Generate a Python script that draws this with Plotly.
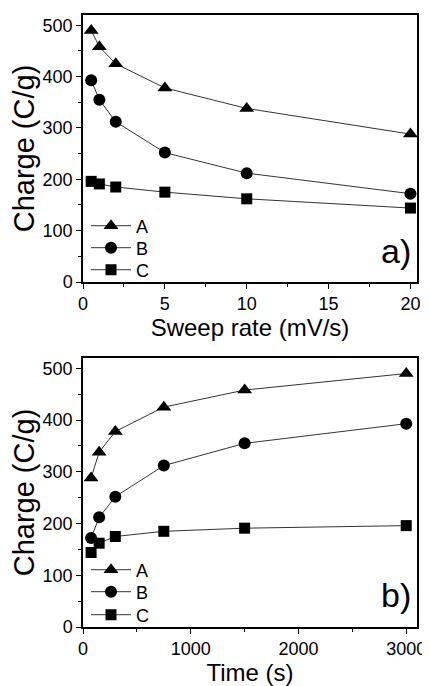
import plotly.graph_objects as go

sweep_rate = [0.5, 1, 2, 5, 10, 20]
time_s = [75, 150, 300, 750, 1500, 3000]
A_a = [490, 458, 425, 378, 338, 288]
B_a = [393, 355, 312, 252, 212, 172]
C_a = [196, 191, 185, 175, 162, 144]
A_b = [288, 338, 378, 425, 458, 490]
B_b = [172, 212, 252, 312, 355, 393]
C_b = [144, 162, 175, 185, 191, 196]

series_names = ["A", "B", "C"]
symbols = ["triangle-up", "circle", "square"]
sizes = [13, 12, 11]

FONT = "Liberation Sans, Arial, sans-serif"
# page body has an 8px default margin; figure is sized to fill the rest
OFF = 8
W, H = 430 - OFF, 686 - OFF


def xp(px):
    return (px - OFF) / W


def yp(py):
    return 1 - (py - OFF) / H


fig = go.Figure()

legend_ids_a = ["legend", "legend2", "legend3"]
legend_ids_b = ["legend4", "legend5", "legend6"]
legend_y_a = [226, 248, 270]
legend_y_b = [570, 592, 615]

for name, ys, sym, sz, lg in zip(series_names, [A_a, B_a, C_a], symbols, sizes, legend_ids_a):
    fig.add_trace(go.Scatter(x=sweep_rate, y=ys, name=name, mode="lines+markers",
                             line=dict(color="#333333", width=1),
                             marker=dict(symbol=sym, size=sz, color="black"),
                             xaxis="x", yaxis="y", legend=lg))
for name, ys, sym, sz, lg in zip(series_names, [A_b, B_b, C_b], symbols, sizes, legend_ids_b):
    fig.add_trace(go.Scatter(x=time_s, y=ys, name=name, mode="lines+markers",
                             line=dict(color="#333333", width=1),
                             marker=dict(symbol=sym, size=sz, color="black"),
                             xaxis="x2", yaxis="y2", legend=lg))

axis_common = dict(showline=True, linecolor="black", linewidth=1.5, mirror=True,
                   ticks="outside", ticklen=5, tickwidth=1.2, tickcolor="black",
                   showgrid=False, zeroline=False, automargin=False,
                   tickfont=dict(family=FONT, size=18, color="black"))

xd = [xp(83), xp(417)]
layout = dict(
    width=W, height=H,
    margin=dict(l=0, r=0, t=0, b=0, autoexpand=False),
    paper_bgcolor="white", plot_bgcolor="white",
    font=dict(family=FONT, color="black"),
    xaxis=dict(domain=xd, range=[0, 20.4], tickvals=[0, 5, 10, 15, 20],
               minor=dict(tickvals=[2.5, 7.5, 12.5, 17.5], ticks="outside", ticklen=3, tickcolor="black"),
               title=dict(text="Sweep rate (mV/s)", font=dict(size=24, family=FONT), standoff=4),
               anchor="y", **axis_common),
    yaxis=dict(domain=[yp(282), yp(15)], range=[0, 520], tickvals=[0, 100, 200, 300, 400, 500],
               minor=dict(tickvals=[50, 150, 250, 350, 450], ticks="outside", ticklen=3, tickcolor="black"),
               title=dict(text="Charge (C/g)", font=dict(size=29, family=FONT), standoff=6),
               anchor="x", **axis_common),
    xaxis2=dict(domain=xd, range=[0, 3100], tickvals=[0, 1000, 2000, 3000],
                minor=dict(tickvals=[500, 1500, 2500], ticks="outside", ticklen=3, tickcolor="black"),
                title=dict(text="Time (s)", font=dict(size=24, family=FONT), standoff=2),
                anchor="y2", **axis_common),
    yaxis2=dict(domain=[yp(627), yp(358)], range=[0, 520], tickvals=[0, 100, 200, 300, 400, 500],
                minor=dict(tickvals=[50, 150, 250, 350, 450], ticks="outside", ticklen=3, tickcolor="black"),
                title=dict(text="Charge (C/g)", font=dict(size=29, family=FONT), standoff=6),
                anchor="x2", **axis_common),
    showlegend=True,
    annotations=[
        dict(text="a)", x=xp(413), y=yp(272), xref="paper", yref="paper", xanchor="right", yanchor="bottom",
             showarrow=False, font=dict(size=34, family=FONT, color="black")),
        dict(text="b)", x=xp(413), y=yp(616), xref="paper", yref="paper", xanchor="right", yanchor="bottom",
             showarrow=False, font=dict(size=34, family=FONT, color="black")),
    ],
)
for lg, ypx in zip(legend_ids_a + legend_ids_b, legend_y_a + legend_y_b):
    layout[lg] = dict(x=xp(86), y=yp(ypx), xanchor="left", yanchor="middle", bgcolor="rgba(0,0,0,0)",
                      font=dict(size=18, family=FONT), borderwidth=0, itemwidth=40)
fig.update_layout(**layout)

fig.write_html("out.html")
